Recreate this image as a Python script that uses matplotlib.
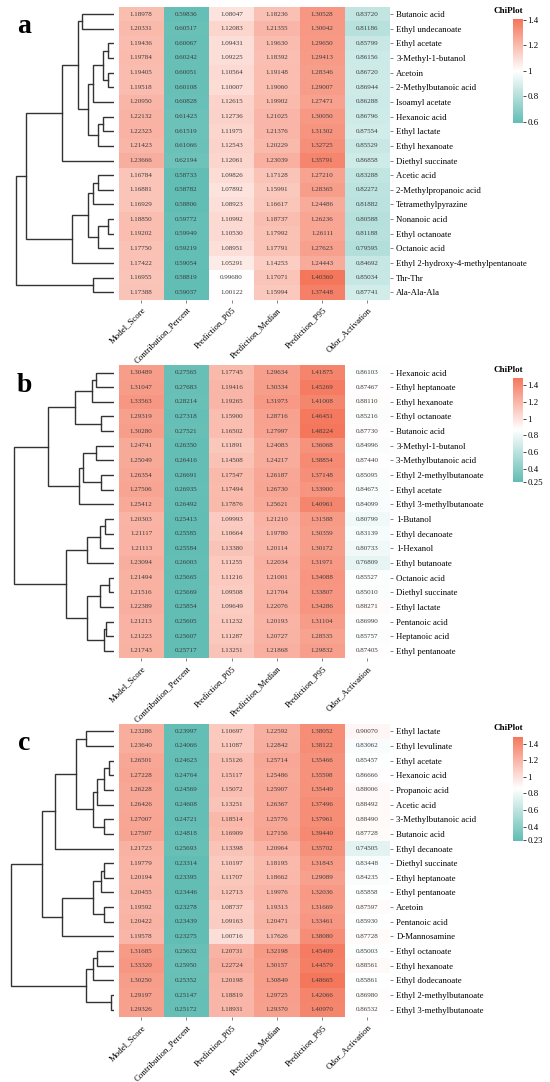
import numpy as np
import matplotlib
matplotlib.use('Agg')
import matplotlib.pyplot as plt
from matplotlib.colors import LinearSegmentedColormap, Normalize

plt.rcParams['font.family'] = ['Liberation Serif', 'DejaVu Serif']

columns = ['Model_Score', 'Contribution_Percent', 'Prediction_P05',
           'Prediction_Median', 'Prediction_P95', 'Odor_Activation']

# ---- panel a ----
names_a = ['Butanoic acid', 'Ethyl undecanoate', 'Ethyl acetate', '3-Methyl-1-butanol',
           'Acetoin', '2-Methylbutanoic acid', 'Isoamyl acetate', 'Hexanoic acid',
           'Ethyl lactate', 'Ethyl hexanoate', 'Diethyl succinate', 'Acetic acid',
           '2-Methylpropanoic acid', 'Tetramethylpyrazine', 'Nonanoic acid',
           'Ethyl octanoate', 'Octanoic acid', 'Ethyl 2-hydroxy-4-methylpentanoate',
           'Thr-Thr', 'Ala-Ala-Ala']
vals_a = [
    [1.18978, 0.59836, 1.08047, 1.18236, 1.30528, 0.83720],
    [1.20331, 0.60517, 1.12083, 1.21355, 1.30042, 0.81186],
    [1.19436, 0.60067, 1.09431, 1.19630, 1.29650, 0.85799],
    [1.19784, 0.60242, 1.09225, 1.18392, 1.29413, 0.86156],
    [1.19405, 0.60051, 1.10564, 1.19148, 1.28346, 0.86720],
    [1.19518, 0.60108, 1.10007, 1.19060, 1.29007, 0.86944],
    [1.20950, 0.60828, 1.12615, 1.19902, 1.27471, 0.86288],
    [1.22132, 0.61423, 1.12736, 1.21025, 1.30050, 0.86796],
    [1.22323, 0.61519, 1.11975, 1.21376, 1.31302, 0.87554],
    [1.21423, 0.61066, 1.12543, 1.20229, 1.32725, 0.85529],
    [1.23666, 0.62194, 1.12061, 1.23039, 1.35791, 0.86858],
    [1.16784, 0.58733, 1.09826, 1.17128, 1.27210, 0.83288],
    [1.16881, 0.58782, 1.07892, 1.15991, 1.28365, 0.82272],
    [1.16929, 0.58806, 1.08923, 1.16617, 1.24486, 0.81882],
    [1.18850, 0.59772, 1.10992, 1.18737, 1.26236, 0.80588],
    [1.19202, 0.59949, 1.10530, 1.17992, 1.26111, 0.81188],
    [1.17750, 0.59219, 1.08951, 1.17791, 1.27623, 0.79595],
    [1.17422, 0.59054, 1.05291, 1.14253, 1.24443, 0.84692],
    [1.16955, 0.58819, 0.99680, 1.17071, 1.40360, 0.85034],
    [1.17388, 0.59037, 1.00122, 1.15994, 1.37448, 0.87741],
]
# merges: (child, child, height) ; new clusters numbered from 20 upward
tree_a = [(2, 3, 17), (4, 5, 17), (20, 21, 32), (22, 6, 62), (7, 8, 32), (24, 9, 47),
          (23, 25, 77), (0, 1, 95), (27, 26, 108), (28, 10, 155), (11, 12, 47),
          (30, 13, 62), (14, 15, 17), (32, 16, 47), (31, 33, 77), (34, 17, 125),
          (29, 35, 265), (18, 19, 62), (36, 37, 295)]
cb_ticks_a = [0.6, 0.8, 1.0, 1.2, 1.4]
cb_labels_a = ['0.6', '0.8', '1', '1.2', '1.4']

# ---- panel b ----
names_b = ['Hexanoic acid', 'Ethyl heptanoate', 'Ethyl hexanoate', 'Ethyl octanoate',
           'Butanoic acid', '3-Methyl-1-butanol', '3-Methylbutanoic acid',
           'Ethyl 2-methylbutanoate', 'Ethyl acetate', 'Ethyl 3-methylbutanoate',
           '1-Butanol', 'Ethyl decanoate', '1-Hexanol', 'Ethyl butanoate',
           'Octanoic acid', 'Diethyl succinate', 'Ethyl lactate', 'Pentanoic acid',
           'Heptanoic acid', 'Ethyl pentanoate']
vals_b = [
    [1.30489, 0.27565, 1.17745, 1.29634, 1.41875, 0.86103],
    [1.31047, 0.27683, 1.19416, 1.30334, 1.45269, 0.87467],
    [1.33563, 0.28214, 1.19265, 1.31973, 1.41008, 0.88110],
    [1.29319, 0.27318, 1.15900, 1.28716, 1.46451, 0.85216],
    [1.30280, 0.27521, 1.16502, 1.27997, 1.48224, 0.87730],
    [1.24741, 0.26350, 1.11891, 1.24083, 1.36068, 0.84996],
    [1.25049, 0.26416, 1.14508, 1.24217, 1.38854, 0.87440],
    [1.26354, 0.26691, 1.17547, 1.26187, 1.37148, 0.85095],
    [1.27506, 0.26935, 1.17494, 1.26730, 1.33900, 0.84673],
    [1.25412, 0.26492, 1.17876, 1.25621, 1.40961, 0.84099],
    [1.20303, 0.25413, 1.09993, 1.21210, 1.31588, 0.80799],
    [1.21117, 0.25585, 1.10664, 1.19780, 1.30359, 0.83139],
    [1.21113, 0.25584, 1.13380, 1.20114, 1.30172, 0.80733],
    [1.23094, 0.26003, 1.11255, 1.22034, 1.31971, 0.76809],
    [1.21494, 0.25665, 1.11216, 1.21001, 1.34088, 0.85527],
    [1.21516, 0.25669, 1.09508, 1.21704, 1.33807, 0.85010],
    [1.22389, 0.25854, 1.09649, 1.22076, 1.34286, 0.88271],
    [1.21213, 0.25605, 1.11232, 1.20193, 1.31104, 0.86990],
    [1.21223, 0.25607, 1.11287, 1.20727, 1.28535, 0.85757],
    [1.21743, 0.25717, 1.13251, 1.21868, 1.29832, 0.87405],
]
tree_b = [(0, 1, 55), (20, 2, 67), (3, 4, 40), (21, 22, 117), (5, 6, 55), (7, 8, 40),
          (24, 25, 93), (26, 9, 105), (23, 27, 197), (10, 11, 27), (29, 12, 43),
          (30, 13, 80), (14, 15, 15), (32, 16, 42), (17, 18, 25), (34, 19, 29),
          (33, 35, 80), (31, 36, 145), (28, 37, 300)]
cb_ticks_b = [0.2542, 0.4, 0.6, 0.8, 1.0, 1.2, 1.4]
cb_labels_b = ['0.25', '0.4', '0.6', '0.8', '1', '1.2', '1.4']

# ---- panel c ----
names_c = ['Ethyl lactate', 'Ethyl levulinate', 'Ethyl acetate', 'Hexanoic acid',
           'Propanoic acid', 'Acetic acid', '3-Methylbutanoic acid', 'Butanoic acid',
           'Ethyl decanoate', 'Diethyl succinate', 'Ethyl heptanoate', 'Ethyl pentanoate',
           'Acetoin', 'Pentanoic acid', 'D-Mannosamine', 'Ethyl octanoate',
           'Ethyl hexanoate', 'Ethyl dodecanoate', 'Ethyl 2-methylbutanoate',
           'Ethyl 3-methylbutanoate']
vals_c = [
    [1.23286, 0.23997, 1.10697, 1.22592, 1.38052, 0.90070],
    [1.23640, 0.24066, 1.11087, 1.22842, 1.38122, 0.83062],
    [1.26501, 0.24623, 1.15126, 1.25714, 1.35466, 0.85457],
    [1.27228, 0.24764, 1.15117, 1.25486, 1.35598, 0.86666],
    [1.26228, 0.24569, 1.15072, 1.25907, 1.35449, 0.88006],
    [1.26426, 0.24608, 1.13251, 1.26367, 1.37496, 0.88492],
    [1.27007, 0.24721, 1.18514, 1.25776, 1.37961, 0.88490],
    [1.27507, 0.24818, 1.16909, 1.27156, 1.39440, 0.87728],
    [1.21723, 0.25693, 1.13398, 1.20964, 1.35702, 0.74505],
    [1.19779, 0.23314, 1.10197, 1.18195, 1.31843, 0.83448],
    [1.20194, 0.23395, 1.11707, 1.18662, 1.29089, 0.84235],
    [1.20455, 0.23446, 1.12713, 1.19976, 1.32036, 0.85858],
    [1.19592, 0.23278, 1.08737, 1.19313, 1.31669, 0.87597],
    [1.20422, 0.23439, 1.09163, 1.20471, 1.33461, 0.85930],
    [1.19578, 0.23275, 1.00716, 1.17626, 1.38080, 0.87728],
    [1.31685, 0.25632, 1.20731, 1.32198, 1.45409, 0.85003],
    [1.33320, 0.25950, 1.22724, 1.30157, 1.44579, 0.88561],
    [1.30250, 0.25352, 1.20198, 1.30849, 1.48665, 0.85861],
    [1.29197, 0.25147, 1.18819, 1.29725, 1.42066, 0.86980],
    [1.29326, 0.25172, 1.18931, 1.29370, 1.40970, 0.86532],
]
tree_c = [(2, 3, 15), (20, 4, 30), (21, 5, 52), (6, 7, 30), (22, 23, 63), (0, 1, 83),
          (25, 24, 115), (26, 8, 177), (9, 10, 30), (28, 11, 40), (12, 13, 30),
          (29, 30, 63), (31, 14, 155), (27, 32, 217), (15, 16, 52), (34, 17, 63),
          (18, 19, 10), (35, 36, 83), (33, 37, 310)]
cb_ticks_c = [0.2328, 0.4, 0.6, 0.8, 1.0, 1.2, 1.4]
cb_labels_c = ['0.23', '0.4', '0.6', '0.8', '1', '1.2', '1.4']

cmap = LinearSegmentedColormap.from_list('chiplot', ['#62BDB4', '#FFFFFF', '#F4765B'])

W, H = 550, 1082
fig = plt.figure(figsize=(W / 100, H / 100), dpi=100)


def px_axes(x0, y0, w, h):
    return fig.add_axes([x0 / W, 1 - (y0 + h) / H, w / W, h / H])


def draw_tree(ax, tree, n):
    pos = {i: (0.0, i + 0.5) for i in range(n)}
    for k, (c1, c2, ht) in enumerate(tree):
        h1, y1 = pos[c1]
        h2, y2 = pos[c2]
        ax.plot([h1, ht, ht, h2], [y1, y1, y2, y2], color='#333333', lw=1.0,
                solid_joinstyle='miter')
        pos[n + k] = (ht, (y1 + y2) / 2)


def panel(top, letter, names, vals, tree, ticks, tlabels):
    data = np.array(vals)
    n = len(names)
    norm = Normalize(vmin=data.min(), vmax=data.max())

    # dendrogram
    axd = px_axes(4, top, 110, 293)
    draw_tree(axd, tree, n)
    axd.set_xlim(330, 0)
    axd.set_ylim(n, 0)
    axd.axis('off')

    # heatmap
    ax = px_axes(118.5, top, 271.5, 293)
    ax.pcolormesh(np.arange(7), np.arange(n + 1), data, cmap=cmap, norm=norm)
    ax.set_xlim(0, 6)
    ax.set_ylim(n, 0)
    for i in range(n):
        for j in range(6):
            ax.text(j + 0.5, i + 0.5, '%.5f' % data[i, j], ha='center', va='center',
                    fontsize=5, color='#3a3a3a')
    for s in ax.spines.values():
        s.set_visible(False)
    ax.set_xticks(np.arange(6) + 0.5)
    ax.set_xticklabels(columns, rotation=45, ha='right', rotation_mode='anchor',
                       fontsize=6.3)
    ax.set_yticks(np.arange(n) + 0.5)
    ax.set_yticklabels(names, fontsize=6.3)
    ax.yaxis.tick_right()
    ax.tick_params(axis='both', length=2.5, width=0.5, color='#555555', pad=2)

    # colorbar
    cax = px_axes(513, top + 12.5, 10, 104)
    sm = plt.cm.ScalarMappable(norm=norm, cmap=cmap)
    cb = fig.colorbar(sm, cax=cax)
    cb.outline.set_visible(False)
    cb.set_ticks(ticks)
    cb.set_ticklabels(tlabels)
    cax.tick_params(length=2, width=0.5, labelsize=6.3, pad=1)
    fig.text(508 / W, 1 - (top + 4.5) / H, 'ChiPlot', ha='center', va='center',
             fontsize=6.5, fontweight='bold')

    fig.text(24 / W, 1 - (top + 20) / H, letter, ha='center', va='center',
             fontsize=20, fontweight='bold')


panel(6.7, 'a', names_a, vals_a, tree_a, cb_ticks_a, cb_labels_a)
panel(365.2, 'b', names_b, vals_b, tree_b, cb_ticks_b, cb_labels_b)
panel(724.0, 'c', names_c, vals_c, tree_c, cb_ticks_c, cb_labels_c)

fig.savefig('out.png', dpi=100)
